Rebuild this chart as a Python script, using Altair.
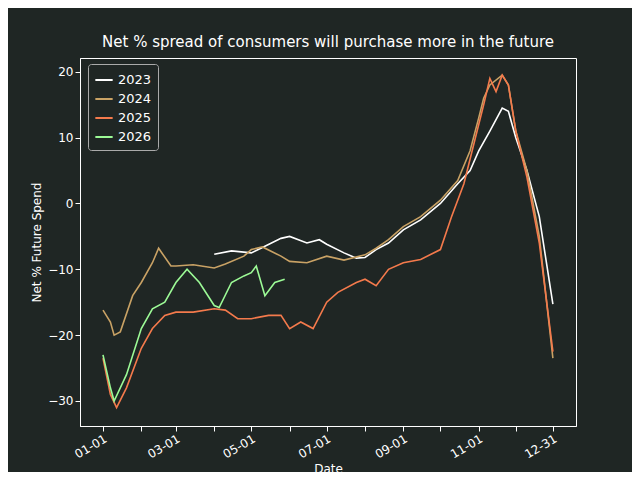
import altair as alt
import pandas as pd

d2023 = ["04-01","04-15","05-01","05-10","05-25","06-01","06-15","06-25","07-01","07-15","07-25","08-01","08-10","08-20","09-01","09-15","10-01","10-15","10-25","11-01","11-10","11-20","11-25","12-01","12-10","12-20","12-31"]
v2023 = [-7.7,-7.2,-7.5,-6.7,-5.3,-5.0,-6.0,-5.5,-6.2,-7.5,-8.3,-8.2,-7,-6,-4,-2.5,0,3,5,8,11,14.5,14,10,5,-2,-15.3]
d2024 = ["01-01","01-07","01-10","01-15","01-25","02-01","02-10","02-15","02-25","03-01","03-15","04-01","04-10","04-25","05-01","05-10","05-25","06-01","06-15","07-01","07-15","08-01","08-10","08-20","09-01","09-15","10-01","10-15","10-25","11-01","11-05","11-10","11-20","11-25","12-01","12-10","12-20","12-31"]
v2024 = [-16.2,-18,-20,-19.5,-14,-12,-9,-6.8,-9.5,-9.5,-9.3,-9.8,-9.2,-8,-7,-6.6,-8,-8.8,-9,-8,-8.6,-7.8,-6.8,-5.5,-3.5,-2,0.5,3.5,8,13,16,18,19.5,18,11,5,-5,-23.5]
d2025 = ["01-01","01-07","01-12","01-20","02-01","02-10","02-20","03-01","03-15","04-01","04-10","04-20","05-01","05-15","05-25","06-01","06-10","06-20","07-01","07-10","07-25","08-01","08-10","08-20","09-01","09-15","10-01","10-10","10-20","10-28","11-05","11-10","11-15","11-20","11-25","12-01","12-10","12-20","12-31"]
v2025 = [-23.5,-29,-31,-28,-22,-19,-17,-16.5,-16.5,-16,-16.2,-17.5,-17.5,-17,-17,-19,-18,-19,-15,-13.5,-12,-11.5,-12.5,-10,-9,-8.5,-7,-2,3,9,15,19,17,19.5,18,11,4,-6,-22.5]
d2026 = ["01-01","01-07","01-10","01-20","02-01","02-10","02-20","03-01","03-10","03-20","04-01","04-05","04-15","04-25","05-01","05-05","05-12","05-20","05-28"]
v2026 = [-23,-28,-30,-26,-19,-16,-15,-12,-10,-12,-15.5,-15.8,-12,-11,-10.5,-9.5,-14,-12,-11.5]

tick_days = [0,31,59,90,120,151,181,212,243,273,304,334,364]
tick_labels = ["01-01","02-01","03-01","04-01","05-01","06-01","07-01","08-01","09-01","10-01","11-01","12-01","12-31"]
years = ["2023","2024","2025","2026"]
colors = ["#ffffff","#c9a265","#f47a4c","#9cfa96"]

rows = []
for y, ds, vs in zip(years, [d2023,d2024,d2025,d2026], [v2023,v2024,v2025,v2026]):
    for d, v in zip(ds, vs):
        doy = pd.Timestamp("2023-" + d).dayofyear - 1
        rows.append({"year": y, "day": doy, "value": v})
df = pd.DataFrame(rows)

lab = "{" + ",".join(f"'{d}':'{l}'" for d, l in zip(tick_days, tick_labels)) + "}"
bg = "#1f2624"

chart = alt.Chart(df).mark_line(strokeWidth=1.6).encode(
    x=alt.X("day:Q", title="Date", scale=alt.Scale(domain=[-18.6, 382.7], nice=False, zero=False),
            axis=alt.Axis(values=tick_days, labelExpr=lab + "[datum.value]", labelAngle=-30, labelAlign="right", grid=False)),
    y=alt.Y("value:Q", title="Net % Future Spend", scale=alt.Scale(domain=[-33.8, 22.1], nice=False),
            axis=alt.Axis(values=[-30,-20,-10,0,10,20], labelExpr="replace(datum.label, '-', '−')", grid=False)),
    color=alt.Color("year:N", scale=alt.Scale(domain=years, range=colors),
                    legend=alt.Legend(title=None, orient="none", legendX=8, legendY=6, symbolType="stroke",
                                      symbolStrokeWidth=2, symbolSize=300, labelFontSize=13, labelColor="white",
                                      strokeColor="#aaaaaa", fillColor=bg, padding=6, cornerRadius=3)),
).properties(
    width=496, height=368, background=bg,
    title=alt.Title("Net % spread of consumers will purchase more in the future", color="white", fontSize=15, fontWeight="normal", offset=8),
    padding={"left": 72, "top": 50, "right": 56, "bottom": 46},
    autosize=alt.AutoSizeParams(type="none"),
).configure_view(fill=bg, stroke="white").configure_axis(
    domainColor="white", tickColor="white", labelColor="white", titleColor="white",
    labelFontSize=12, titleFontSize=12, titleFontWeight="normal", labelFont="DejaVu Sans", titleFont="DejaVu Sans"
).configure_legend(labelFont="DejaVu Sans").configure_title(font="DejaVu Sans")

chart.save("out.html", embed_options={"renderer": "svg", "actions": False})
